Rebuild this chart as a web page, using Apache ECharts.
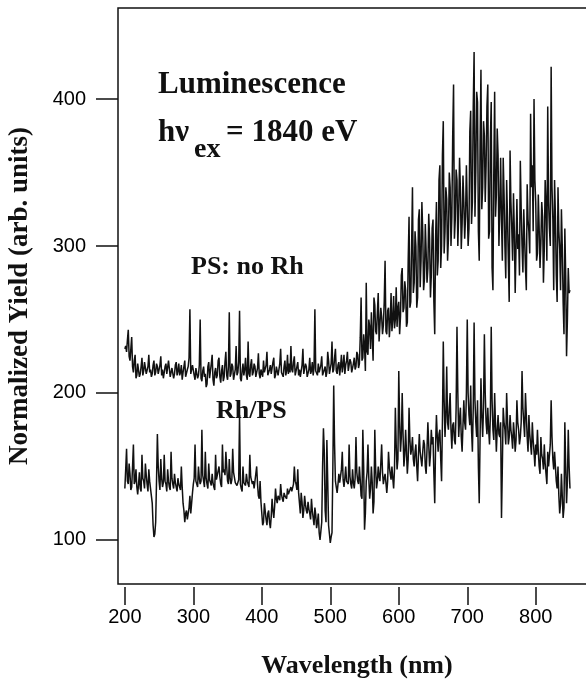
<!DOCTYPE html>
<html>
<head>
<meta charset="utf-8">
<script src="https://cdn.jsdelivr.net/npm/echarts/dist/echarts.min.js"></script>
<style>
  html, body { margin: 0; padding: 0; background: #fff; }
  #main { width: 586px; height: 680px; }
</style>
</head>
<body>
<div id="main"></div>
<script>
// wavelength grid of the scan (nm)
const wlStart = 200;
const wlStep = 1.25;

// PS: no Rh  (200 ... 850 nm, one row = 50 nm)
const psNoRh = [
  230, 232, 228, 236, 243, 225, 222, 230, 238, 218, 214, 222, 226, 210, 212, 220, 219, 211, 213, 218, 224, 212, 215, 221, 220, 213, 212, 218, 226, 214, 216, 211, 213, 219, 222, 212, 214, 220, 218, 213,
  213, 219, 225, 212, 216, 210, 211, 218, 220, 213, 214, 222, 223, 211, 212, 217, 217, 210, 213, 219, 221, 212, 215, 220, 212, 214, 219, 209, 214, 218, 222, 211, 210, 216, 218, 224, 257, 213, 212, 219,
  220, 212, 209, 217, 216, 210, 212, 219, 250, 210, 208, 215, 218, 211, 213, 204, 206, 218, 221, 210, 211, 220, 226, 209, 205, 214, 217, 210, 212, 222, 224, 211, 207, 215, 219, 208, 211, 221, 228, 212,
  209, 218, 255, 211, 213, 220, 218, 209, 210, 216, 232, 212, 214, 221, 256, 210, 208, 215, 220, 212, 216, 224, 212, 209, 235, 213, 211, 219, 223, 212, 214, 220, 218, 211, 212, 217, 227, 213, 210, 216,
  216, 211, 222, 214, 213, 219, 228, 212, 211, 216, 219, 213, 214, 221, 224, 210, 212, 218, 217, 212, 213, 220, 230, 214, 215, 211, 218, 222, 212, 215, 226, 213, 220, 214, 232, 216, 214, 221, 225, 212,
  213, 218, 221, 212, 216, 211, 212, 219, 230, 213, 214, 220, 218, 211, 212, 216, 224, 213, 215, 221, 212, 217, 257, 215, 216, 212, 220, 214, 213, 219, 225, 212, 212, 216, 218, 211, 214, 228, 222, 213,
  212, 220, 235, 214, 216, 224, 230, 215, 213, 219, 221, 212, 218, 226, 214, 219, 226, 213, 219, 222, 228, 215, 216, 223, 221, 214, 215, 220, 224, 216, 218, 228, 226, 217, 220, 238, 265, 222, 224, 240,
  232, 215, 275, 228, 226, 250, 245, 230, 255, 238, 222, 265, 260, 242, 240, 255, 268, 235, 236, 258, 252, 240, 246, 262, 290, 242, 240, 256, 258, 238, 248, 268, 242, 250, 266, 244, 250, 272, 245, 258,
  262, 240, 252, 280, 285, 255, 258, 276, 270, 245, 248, 290, 320, 258, 262, 300, 340, 268, 275, 310, 300, 258, 265, 318, 325, 272, 290, 330, 310, 270, 278, 315, 296, 275, 285, 322, 305, 265, 280, 312,
  318, 262, 240, 305, 330, 280, 290, 345, 355, 285, 300, 362, 385, 295, 310, 340, 332, 290, 305, 350, 340, 300, 320, 375, 410, 305, 318, 352, 345, 300, 322, 360, 338, 298, 315, 348, 330, 305, 320, 355,
  355, 300, 312, 378, 392, 315, 330, 395, 432, 320, 352, 405, 398, 310, 290, 370, 420, 325, 340, 385, 375, 330, 355, 395, 410, 305, 310, 372, 398, 285, 270, 350, 405, 320, 335, 380, 362, 300, 325, 360,
  318, 290, 360, 335, 300, 278, 345, 320, 290, 262, 365, 330, 312, 290, 336, 310, 268, 300, 332, 298, 308, 280, 358, 325, 300, 282, 325, 305, 285, 270, 342, 318, 310, 295, 390, 340, 355, 310, 400, 345,
  330, 290, 295, 335, 312, 285, 302, 330, 320, 275, 298, 345, 328, 290, 395, 330, 312, 300, 422, 340, 318, 270, 345, 320, 280, 262, 340, 310, 298, 270, 325, 300, 262, 240, 312, 280, 225, 250, 285, 268,
  270
];

// Rh/PS
const rhPs = [
  135, 148, 162, 140, 138, 152, 145, 134, 136, 150, 165, 138, 140, 148, 136, 131, 138, 146, 135, 133, 158, 142, 140, 135, 152, 144, 138, 133, 148, 140, 140, 130, 125, 110, 102, 104, 112, 140, 172, 150,
  140, 134, 155, 142, 136, 139, 158, 140, 138, 133, 148, 140, 136, 134, 160, 142, 138, 135, 145, 139, 136, 133, 142, 138, 138, 134, 150, 136, 125, 120, 112, 118, 120, 114, 115, 122, 130, 118, 125, 132,
  138, 142, 165, 140, 140, 136, 150, 142, 138, 140, 175, 144, 140, 136, 160, 142, 138, 135, 152, 141, 140, 137, 145, 139, 136, 134, 158, 141, 142, 140, 150, 143, 138, 136, 165, 146, 148, 144, 160, 150,
  140, 138, 155, 142, 138, 141, 162, 146, 145, 139, 140, 137, 136, 141, 185, 138, 135, 133, 150, 139, 140, 137, 145, 140, 138, 136, 158, 143, 142, 138, 140, 135, 136, 134, 150, 138, 130, 128, 140, 126,
  118, 110, 112, 125, 125, 114, 110, 118, 120, 112, 108, 116, 128, 120, 115, 123, 135, 128, 125, 130, 130, 127, 138, 131, 128, 126, 132, 130, 130, 128, 135, 131, 132, 130, 136, 133, 134, 138, 150, 140,
  138, 134, 148, 132, 125, 118, 132, 126, 115, 120, 130, 124, 120, 118, 126, 121, 118, 114, 128, 120, 115, 110, 122, 117, 108, 112, 118, 105, 100, 106, 112, 150, 176, 160, 120, 112, 168, 140, 110, 104,
  98, 102, 105, 150, 205, 165, 140, 136, 132, 138, 145, 139, 138, 148, 160, 141, 136, 142, 150, 140, 140, 138, 165, 143, 138, 135, 148, 139, 135, 142, 170, 146, 140, 138, 150, 141, 130, 128, 175, 150,
  107, 118, 140, 146, 165, 142, 128, 135, 150, 139, 118, 126, 175, 148, 135, 140, 150, 143, 140, 152, 165, 146, 138, 142, 145, 139, 132, 140, 160, 150, 145, 141, 150, 142, 135, 148, 190, 165, 148, 155,
  215, 180, 160, 170, 200, 172, 150, 158, 175, 160, 145, 155, 190, 168, 158, 162, 170, 155, 150, 160, 165, 150, 140, 158, 172, 160, 155, 150, 160, 168, 165, 150, 145, 162, 180, 165, 150, 158, 175, 165,
  170, 145, 125, 165, 185, 170, 160, 172, 175, 155, 140, 180, 235, 195, 170, 185, 218, 180, 175, 190, 200, 175, 162, 178, 180, 168, 165, 190, 245, 200, 170, 182, 190, 170, 160, 178, 195, 180, 175, 200,
  250, 200, 185, 178, 205, 175, 160, 190, 248, 195, 180, 170, 195, 150, 125, 170, 210, 185, 170, 190, 240, 200, 180, 172, 190, 175, 165, 185, 245, 195, 175, 168, 200, 178, 160, 175, 185, 172, 170, 180,
  115, 150, 190, 180, 175, 165, 200, 182, 165, 170, 185, 175, 170, 162, 180, 172, 160, 168, 195, 180, 175, 165, 170, 180, 215, 190, 180, 170, 200, 185, 170, 160, 185, 172, 165, 158, 180, 168, 160, 150,
  165, 158, 175, 160, 150, 145, 170, 158, 155, 148, 165, 152, 145, 138, 160, 150, 150, 165, 195, 170, 155, 148, 160, 150, 140, 135, 150, 130, 118, 125, 145, 130, 115, 122, 180, 150, 125, 140, 175, 150,
  135
];

const xTicks = [200, 300, 400, 500, 600, 700, 800];
const yTicks = [100, 200, 300, 400];

const toPairs = (vals) => vals.map((v, i) => [wlStart + i * wlStep, v]);

const serif = '"Liberation Serif", "Times New Roman", serif';
const sans = '"Liberation Sans", Arial, sans-serif';

const myChart = echarts.init(document.getElementById('main'));

myChart.setOption({
  animation: false,
  backgroundColor: '#fff',
  grid: {
    left: 118, top: 8, right: -10, bottom: 96,
    outerBoundsMode: 'none',
    show: true, borderColor: '#111', borderWidth: 1.5
  },
  xAxis: {
    type: 'value',
    min: 190, max: 888,
    offset: 3,
    axisLine: { show: false },
    splitLine: { show: false },
    axisTick: { customValues: xTicks, length: 18, lineStyle: { color: '#111', width: 1.5 } },
    axisLabel: { customValues: xTicks, margin: 20, color: '#000', fontSize: 20, fontFamily: sans },
    name: 'Wavelength (nm)',
    nameLocation: 'middle',
    nameGap: 66,
    nameTextStyle: { fontFamily: serif, fontWeight: 'bold', fontSize: 26, color: '#111' }
  },
  yAxis: {
    type: 'value',
    min: 70, max: 462,
    axisLine: { show: false },
    splitLine: { show: false },
    axisTick: { customValues: yTicks, length: 22, lineStyle: { color: '#111', width: 1.5 } },
    axisLabel: { customValues: yTicks, margin: 32, color: '#000', fontSize: 20, fontFamily: sans },
    name: 'Normalized Yield (arb. units)',
    nameLocation: 'middle',
    nameGap: 84,
    nameTextStyle: { fontFamily: serif, fontWeight: 'bold', fontSize: 27, color: '#111' }
  },
  graphic: [
    { type: 'text', style: { x: 158, y: 85, text: 'Luminescence', font: 'bold 31px ' + serif, fill: '#111', verticalAlign: 'middle' } },
    { type: 'text', style: { x: 158, y: 133, text: 'h\u03bd', font: 'bold 31px ' + serif, fill: '#111', verticalAlign: 'middle' } },
    { type: 'text', style: { x: 194, y: 150, text: 'ex', font: 'bold 28px ' + serif, fill: '#111', verticalAlign: 'middle' } },
    { type: 'text', style: { x: 226, y: 133, text: '= 1840 eV', font: 'bold 31px ' + serif, fill: '#111', verticalAlign: 'middle' } },
    { type: 'text', style: { x: 191, y: 267, text: 'PS: no Rh', font: 'bold 26px ' + serif, fill: '#111', verticalAlign: 'middle' } },
    { type: 'text', style: { x: 216, y: 411, text: 'Rh/PS', font: 'bold 26px ' + serif, fill: '#111', verticalAlign: 'middle' } }
  ],
  series: [
    {
      name: 'PS: no Rh', type: 'line', data: toPairs(psNoRh),
      showSymbol: false, lineStyle: { color: '#111', width: 1.5 }
    },
    {
      name: 'Rh/PS', type: 'line', data: toPairs(rhPs),
      showSymbol: false, lineStyle: { color: '#111', width: 1.5 }
    }
  ]
});
</script>
</body>
</html>
